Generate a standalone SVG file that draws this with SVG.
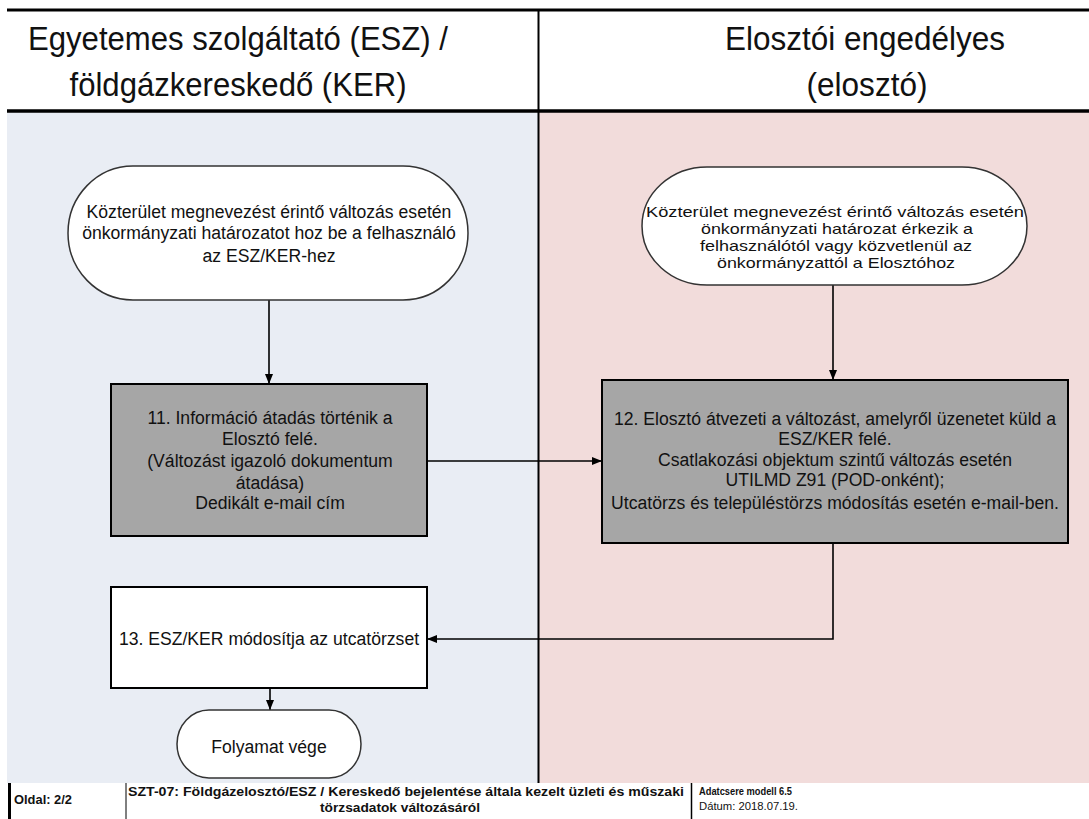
<svg xmlns="http://www.w3.org/2000/svg" width="1089" height="819" viewBox="0 0 1089 819">
<style>
.t{font-family:"Liberation Sans",Arial,sans-serif;fill:#111;text-anchor:middle}
.n{font-size:17.6px}
.s{font-size:14.5px}
.h{font-size:34px}
.f{font-family:"Liberation Sans",Arial,sans-serif;fill:#111;font-weight:bold}
.ln{stroke:#000;fill:none}
.term{fill:#fff;stroke:#333;stroke-width:1.5}
.proc{fill:#a6a6a6;stroke:#000;stroke-width:2}
.wproc{fill:#fff;stroke:#000;stroke-width:2}
.con{stroke:#000;stroke-width:1.6;fill:none;marker-end:url(#arr)}
</style>
<defs>
<marker id="arr" viewBox="0 0 10 10" refX="10" refY="5" markerWidth="10" markerHeight="10" markerUnits="userSpaceOnUse" orient="auto">
<path d="M0,1 L10,5 L0,9 z" fill="#000"/>
</marker>
</defs>
<rect x="0" y="0" width="1089" height="819" fill="#fff"/>
<g id="lanes">
<rect x="7" y="112" width="531" height="671" fill="#e9edf4"/>
<rect x="538" y="112" width="551" height="671" fill="#f2dcdb"/>
<line class="ln" x1="7" y1="10" x2="1089" y2="10" stroke-width="3"/>
<line class="ln" x1="7" y1="111" x2="1089" y2="111" stroke-width="3.5"/>
<line class="ln" x1="538.5" y1="10" x2="538.5" y2="783" stroke-width="2"/>
<text class="t h" x="238" y="50" textLength="420" lengthAdjust="spacingAndGlyphs">Egyetemes szolgáltató (ESZ) /</text>
<text class="t h" x="238" y="96" textLength="337" lengthAdjust="spacingAndGlyphs">földgázkereskedő (KER)</text>
<text class="t h" x="865" y="50" textLength="280" lengthAdjust="spacingAndGlyphs">Elosztói engedélyes</text>
<text class="t h" x="867" y="96" textLength="121" lengthAdjust="spacingAndGlyphs">(elosztó)</text>
</g>
<g id="connectors">
<line class="con" x1="269" y1="300" x2="269" y2="384"/>
<line class="con" x1="833" y1="285" x2="833" y2="380"/>
<line class="con" x1="427" y1="461" x2="602" y2="461"/>
<polyline class="con" points="833,543 833,639 427,639"/>
<line class="con" x1="270" y1="688" x2="270" y2="710"/>
</g>
<g id="start-esz">
<rect class="term" x="68" y="166" width="400" height="134" rx="65" ry="67"/>
<text class="t n" x="269" y="218">Közterület megnevezést érintő változás esetén</text>
<text class="t n" x="269" y="239">önkormányzati határozatot hoz be a felhasználó</text>
<text class="t n" x="269" y="262">az ESZ/KER-hez</text>
</g>
<g id="start-eloszto">
<rect class="term" x="642" y="167" width="385" height="118" rx="65" ry="59"/>
<text class="t s" x="835" y="217" textLength="378" lengthAdjust="spacingAndGlyphs">Közterület megnevezést érintő változás esetén</text>
<text class="t s" x="837" y="234" textLength="272" lengthAdjust="spacingAndGlyphs">önkormányzati határozat érkezik a</text>
<text class="t s" x="836" y="251" textLength="272" lengthAdjust="spacingAndGlyphs">felhasználótól vagy közvetlenül az</text>
<text class="t s" x="836" y="268" textLength="238" lengthAdjust="spacingAndGlyphs">önkormányzattól a Elosztóhoz</text>
</g>
<g id="step11">
<rect class="proc" x="111" y="384" width="316" height="152"/>
<text class="t n" x="270" y="424">11. Információ átadás történik a</text>
<text class="t n" x="270" y="445">Elosztó felé.</text>
<text class="t n" x="270" y="467">(Változást igazoló dokumentum</text>
<text class="t n" x="270" y="489">átadása)</text>
<text class="t n" x="270" y="509">Dedikált e-mail cím</text>
</g>
<g id="step12">
<rect class="proc" x="602" y="380" width="466" height="163"/>
<text class="t n" x="835" y="425">12. Elosztó átvezeti a változást, amelyről üzenetet küld a</text>
<text class="t n" x="835" y="445">ESZ/KER felé.</text>
<text class="t n" x="835" y="466">Csatlakozási objektum szintű változás esetén</text>
<text class="t n" x="835" y="486">UTILMD Z91 (POD-onként);</text>
<text class="t n" x="835" y="509">Utcatörzs és településtörzs módosítás esetén e-mail-ben.</text>
</g>
<g id="step13">
<rect class="wproc" x="111" y="587" width="316" height="101"/>
<text class="t n" x="269" y="645">13. ESZ/KER módosítja az utcatörzset</text>
</g>
<g id="end">
<rect class="term" x="177" y="710" width="184" height="68" rx="32" ry="34"/>
<text class="t" x="269" y="753" font-size="17.6">Folyamat vége</text>
</g>
<g id="footer">
<rect x="0" y="783" width="1089" height="36" fill="#fff"/>
<line class="ln" x1="9.5" y1="783" x2="9.5" y2="819" stroke-width="3"/>
<line class="ln" x1="126" y1="783" x2="126" y2="819" stroke-width="1"/>
<line class="ln" x1="691.5" y1="783" x2="691.5" y2="819" stroke-width="1.5" stroke="#444"/>
<text class="f" x="14" y="804" font-size="12" textLength="58" lengthAdjust="spacingAndGlyphs">Oldal: 2/2</text>
<text class="f" x="406" y="796" font-size="12" text-anchor="middle" textLength="556" lengthAdjust="spacingAndGlyphs">SZT-07: Földgázelosztó/ESZ / Kereskedő bejelentése általa kezelt üzleti és műszaki</text>
<text class="f" x="400" y="812" font-size="12" text-anchor="middle" textLength="160" lengthAdjust="spacingAndGlyphs">törzsadatok változásáról</text>
<text class="f" x="699" y="795" font-size="10" textLength="93" lengthAdjust="spacingAndGlyphs">Adatcsere modell 6.5</text>
<text x="699" y="810" font-family="Liberation Sans, Arial, sans-serif" font-size="10" fill="#111" textLength="99" lengthAdjust="spacingAndGlyphs">Dátum: 2018.07.19.</text>
</g>
</svg>
